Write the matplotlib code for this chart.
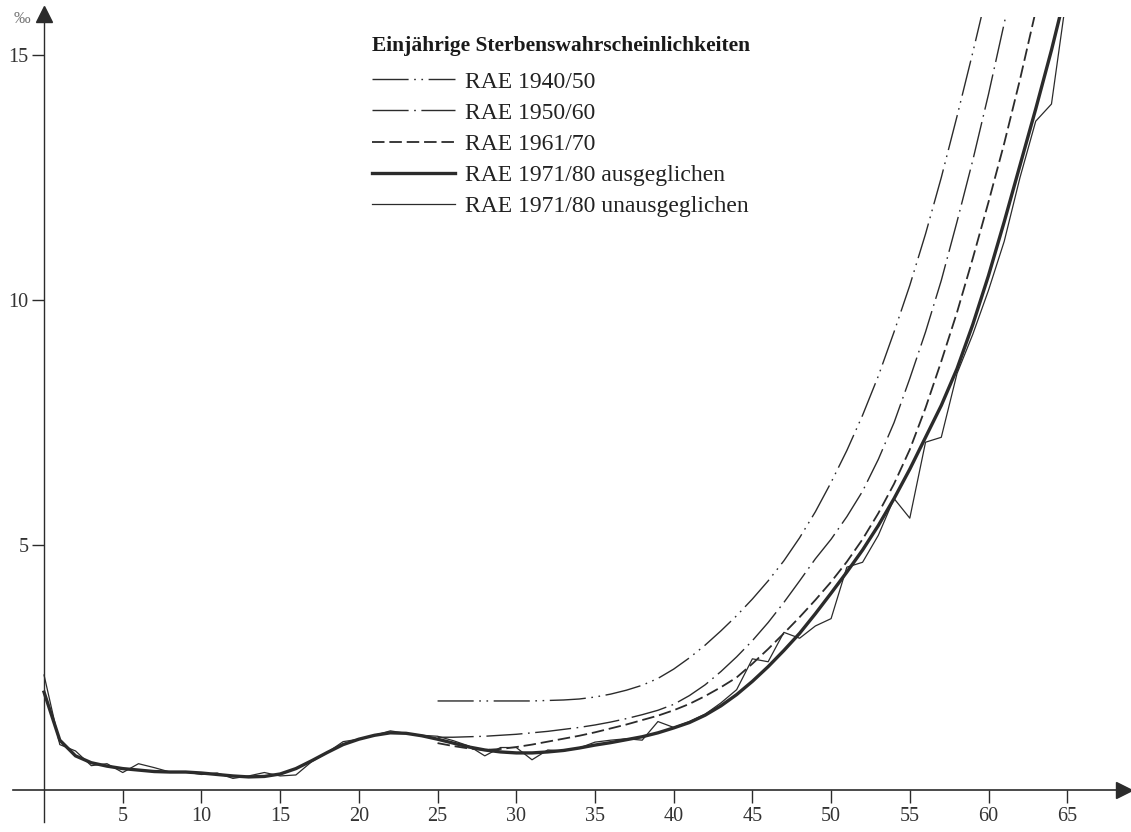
import numpy as np
import matplotlib
matplotlib.use("Agg")
import matplotlib.pyplot as plt

plt.rcParams['font.family'] = ['Liberation Serif', 'DejaVu Serif']
plt.rcParams['lines.scale_dashes'] = False

# Einjaehrige Sterbenswahrscheinlichkeiten in Promille, nach Alter
ages_7180 = np.arange(0, 66)
rae_7180_aus = [2.0, 1.02, 0.70, 0.56, 0.49, 0.44, 0.41, 0.38, 0.37, 0.37,
                0.35, 0.32, 0.29, 0.27, 0.28, 0.33, 0.44, 0.60, 0.77, 0.93,
                1.04, 1.12, 1.17, 1.16, 1.11, 1.04, 0.96, 0.88, 0.82, 0.78,
                0.76, 0.76, 0.78, 0.81, 0.86, 0.92, 0.97, 1.03, 1.09, 1.17,
                1.27, 1.38, 1.53, 1.72, 1.95, 2.22, 2.52, 2.85, 3.20, 3.60,
                4.02, 4.45, 4.90, 5.40, 5.95, 6.55, 7.20, 7.85, 8.60, 9.50,
                10.5, 11.6, 12.75, 13.9, 15.1, 16.4]
rae_7180_unaus = [2.35, 0.93, 0.80, 0.50, 0.54, 0.36, 0.54, 0.46, 0.37, 0.37,
                  0.32, 0.35, 0.24, 0.29, 0.36, 0.29, 0.31, 0.58, 0.77, 0.99,
                  1.04, 1.12, 1.21, 1.16, 1.12, 1.10, 1.01, 0.90, 0.70, 0.87,
                  0.87, 0.62, 0.82, 0.80, 0.86, 0.98, 1.02, 1.05, 1.02, 1.40,
                  1.28, 1.40, 1.55, 1.78, 2.05, 2.68, 2.62, 3.22, 3.10, 3.35,
                  3.50, 4.55, 4.65, 5.20, 5.95, 5.55, 7.10, 7.20, 8.50, 9.30,
                  10.2, 11.2, 12.5, 13.65, 14.0, 16.3]

ages_4050 = np.arange(25, 61)
rae_4050 = [1.82, 1.82, 1.82, 1.82, 1.82, 1.82, 1.82, 1.83, 1.84, 1.86,
            1.90, 1.96, 2.04, 2.14, 2.28, 2.47, 2.70, 2.96, 3.25, 3.56,
            3.90, 4.27, 4.68, 5.15, 5.68, 6.28, 6.93, 7.65, 8.45, 9.35,
            10.3, 11.35, 12.5, 13.75, 15.05, 16.4]

ages_5060 = np.arange(25, 63)
rae_5060 = [1.08, 1.08, 1.09, 1.10, 1.12, 1.14, 1.17, 1.20, 1.24, 1.28,
            1.33, 1.39, 1.46, 1.54, 1.63, 1.75, 1.93, 2.15, 2.42, 2.72,
            3.05, 3.42, 3.83, 4.27, 4.72, 5.12, 5.58, 6.10, 6.75, 7.50,
            8.40, 9.35, 10.4, 11.6, 12.85, 14.2, 15.65, 17.1]

ages_6170 = np.arange(25, 64)
rae_6170 = [0.96, 0.90, 0.85, 0.82, 0.84, 0.88, 0.93, 0.99, 1.05, 1.11,
            1.18, 1.26, 1.34, 1.43, 1.52, 1.63, 1.76, 1.92, 2.10, 2.30,
            2.58, 2.88, 3.20, 3.53, 3.88, 4.25, 4.66, 5.12, 5.65, 6.25,
            6.95, 7.80, 8.75, 9.75, 10.85, 12.0, 13.2, 14.5, 15.9]

x_ticks = [5, 10, 15, 20, 25, 30, 35, 40, 45, 50, 55, 60, 65]
y_ticks = [5, 10, 15]

ink = '#2b2b2b'

fig = plt.figure(figsize=(11.31, 8.32), dpi=100)
ax = fig.add_axes([0.0111, 0.012, 0.9826, 0.9678])

l1, = ax.plot(ages_4050, rae_4050, color=ink, lw=1.0,
              dashes=[26, 4, 1.2, 4, 1.2, 4], label='RAE 1940/50')
l2, = ax.plot(ages_5060, rae_5060, color=ink, lw=1.0,
              dashes=[26, 4, 1.2, 4], label='RAE 1950/60')
l3, = ax.plot(ages_6170, rae_6170, color=ink, lw=1.3,
              dashes=[9, 3.5], label='RAE 1961/70')
l4, = ax.plot(ages_7180, rae_7180_aus, color=ink, lw=2.4,
              solid_joinstyle='round', label='RAE 1971/80 ausgeglichen')
l5, = ax.plot(ages_7180, rae_7180_unaus, color=ink, lw=0.9,
              label='RAE 1971/80 unausgeglichen')

ax.set_xlim(-2, 68.6)
ax.set_ylim(-0.65, 15.78)

# Achsen durch den Nullpunkt, mit Pfeilspitzen
for side in ['top', 'right']:
    ax.spines[side].set_visible(False)
ax.spines['bottom'].set_position(('data', 0))
ax.spines['left'].set_position(('data', 0))
ax.spines['bottom'].set_color(ink)
ax.spines['left'].set_color(ink)
ax.spines['bottom'].set_linewidth(1.2)
ax.spines['left'].set_linewidth(1.0)
ax.plot(1, 0, '>', color=ink, markersize=11, transform=ax.get_yaxis_transform(), clip_on=False)
ax.plot(0, 1.004, '^', color=ink, markersize=11, transform=ax.get_xaxis_transform(), clip_on=False)

ax.set_xticks(x_ticks)
ax.set_yticks(y_ticks)
ax.tick_params(axis='x', direction='out', length=9, width=1, color=ink,
               labelsize=14.5, labelcolor='#333333', pad=3)
ax.tick_params(axis='y', direction='out', length=9, width=1, color=ink,
               labelsize=14.5, labelcolor='#333333', pad=2)

fig.text(22 / 1131, 1 - 19 / 832, '‰', fontsize=12, color='#777777', ha='center', va='center')

fig.text(372 / 1131, 1 - 46 / 832, 'Einjährige Sterbenswahrscheinlichkeiten',
         fontsize=15.5, fontweight='bold', color='#1a1a1a', ha='left', va='center')

leg = ax.legend(handles=[l1, l2, l3, l4, l5], loc='upper left',
                bbox_to_anchor=(372 / 1131, 1 - 71 / 832), bbox_transform=fig.transFigure,
                frameon=False, borderpad=0, borderaxespad=0, fontsize=17,
                handlelength=3.5, handletextpad=0.42, labelspacing=0.41)
for t in leg.get_texts():
    t.set_color('#222222')

fig.savefig('out.png', dpi=100)
